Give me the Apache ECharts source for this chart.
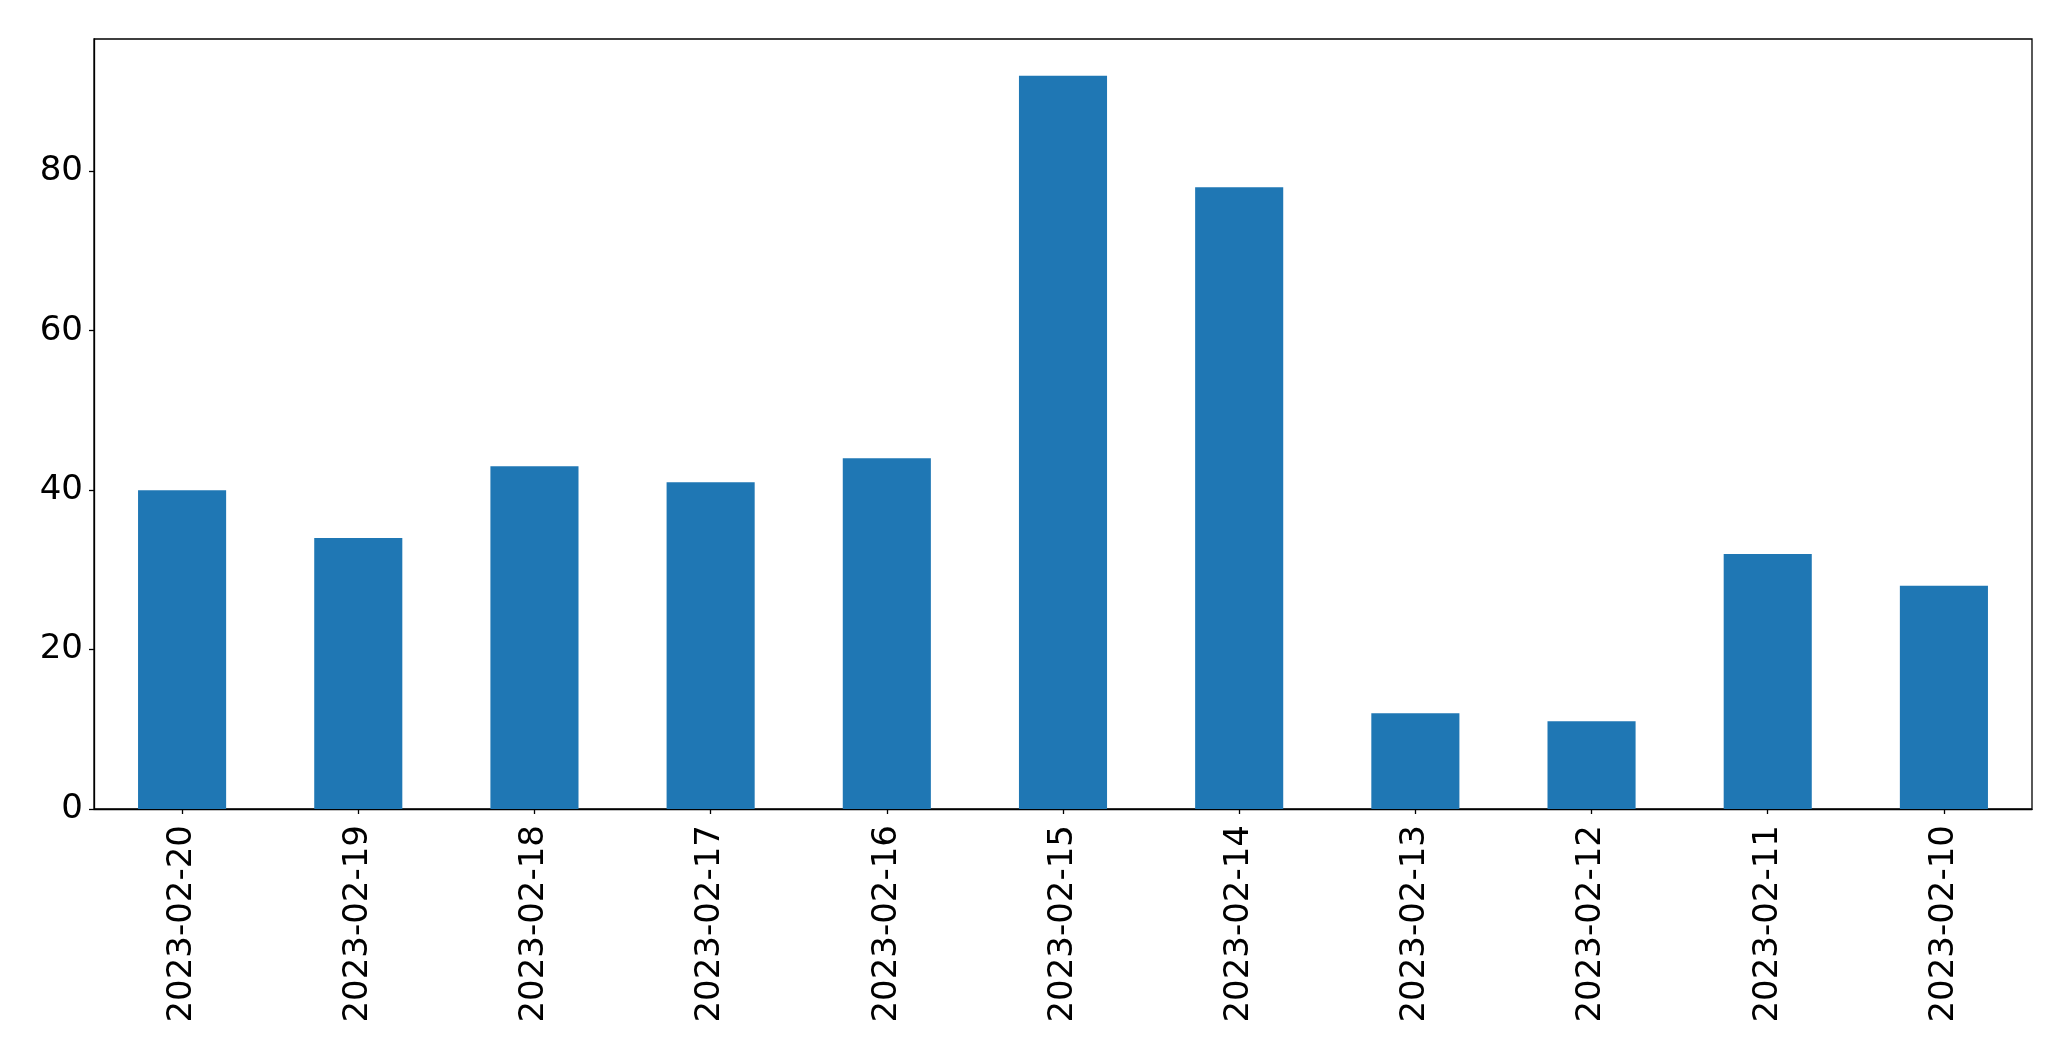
<!DOCTYPE html>
<html>
<head>
<meta charset="utf-8">
<script src="https://cdn.jsdelivr.net/npm/echarts@6/dist/echarts.min.js"></script>
<style>html,body{margin:0;padding:0;background:#fff}#c{width:2071px;height:1061px}</style>
</head>
<body>
<div id="c"></div>
<script>
const categories = ["2023-02-20","2023-02-19","2023-02-18","2023-02-17","2023-02-16","2023-02-15","2023-02-14","2023-02-13","2023-02-12","2023-02-11","2023-02-10"];
const values = [40, 34, 43, 41, 44, 92, 78, 12, 11, 32, 28];
const yTicks = [0, 20, 40, 60, 80];

const chart = echarts.init(document.getElementById('c'), null, {renderer: 'canvas'});
const font = 'DejaVu Sans';
chart.setOption({
  animation: false,
  backgroundColor: '#fff',
  grid: {left: 94, right: 39, top: 39, bottom: 252, show: true, borderColor: '#000', borderWidth: 1.3, backgroundColor: 'transparent'},
  xAxis: {
    type: 'category',
    data: categories,
    axisLine: {show: true, lineStyle: {color: '#000', width: 1.3}},
    axisTick: {show: true, alignWithLabel: true, length: 5, lineStyle: {color: '#000', width: 1.3}},
    axisLabel: {rotate: 90, color: '#000', fontFamily: font, fontSize: 34, margin: 16, interval: 0},
    splitLine: {show: false}
  },
  yAxis: {
    type: 'value',
    min: 0,
    max: 96.6,
    interval: 20,
    axisLine: {show: true, lineStyle: {color: '#000', width: 1.3}},
    axisTick: {show: true, length: 5, lineStyle: {color: '#000', width: 1.3}},
    axisLabel: {color: '#000', fontFamily: font, fontSize: 34, margin: 11, showMaxLabel: false,
      formatter: v => yTicks.includes(v) ? String(v) : ''},
    splitLine: {show: false}
  },
  series: [{
    type: 'bar',
    data: values,
    barWidth: '50%',
    itemStyle: {color: '#1f77b4'}
  }]
});
</script>
</body>
</html>
